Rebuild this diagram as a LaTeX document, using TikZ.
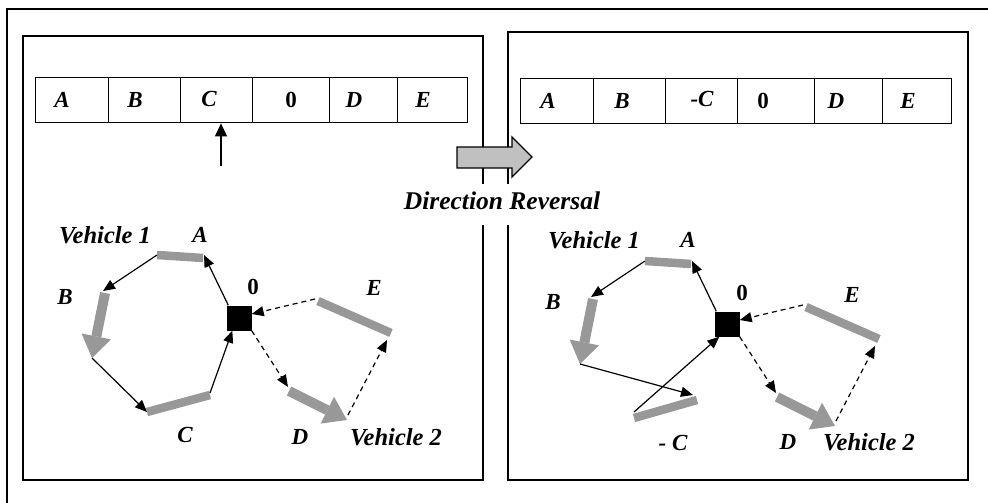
\documentclass[tikz,border=0pt]{standalone}
\usepackage{fontspec}
\setmainfont{Liberation Serif}
\usetikzlibrary{arrows.meta,calc}
\definecolor{barg}{RGB}{152,152,152}
\definecolor{bigarrow}{RGB}{192,192,192}
\begin{document}
\begin{tikzpicture}[x=1pt,y=-1pt,
  font=\fontsize{23}{26}\selectfont\bfseries\itshape,
  frame/.style={line width=2pt},
  cell/.style={draw, line width=1.4pt, minimum height=45pt, inner sep=0pt, anchor=north west},
  lbl/.style={inner sep=0pt},
  vlbl/.style={inner sep=0pt, font=\fontsize{24.5}{27}\selectfont\bfseries\itshape},
  zero/.style={inner sep=0pt, font=\fontsize{23}{26}\selectfont\bfseries\upshape},
  bar/.style={barg, line width=8.5pt},
  fat/.style={barg, line width=10pt, -{Triangle[length=22pt,width=30pt,line width=0pt]}},
  link/.style={line width=1.2pt, -{Triangle[length=12pt,width=10pt]}},
  dlink/.style={link, dash pattern=on 5pt off 4pt},
  depot/.style={fill=black, minimum size=25pt, inner sep=0pt},
]
\useasboundingbox (0,0) rectangle (988,503);
% outer frame and panels
\draw[frame] (7,503) -- (7,9) -- (988,9);
\draw[frame] (23,36) rectangle (483,480);
\draw[frame] (508,32) rectangle (968,480);

% left array
\node[cell, minimum width=73pt] (l1) at (35,77) {};
\node[cell, minimum width=72pt] (l2) at (108,77) {};
\node[cell, minimum width=72pt] (l3) at (180,77) {};
\node[cell, minimum width=77pt] (l4) at (252,77) {};
\node[cell, minimum width=68pt] (l5) at (329,77) {};
\node[cell, minimum width=70pt] (l6) at (397,77) {};
\node[lbl] (lt1) at (62,100) {A};
\node[lbl] (lt2) at (135,100) {B};
\node[lbl] (lt3) at (209,99) {C};
\node[zero] (lt4) at (291,100) {0};
\node[lbl] (lt5) at (354,100) {D};
\node[lbl] (lt6) at (423,100) {E};
\coordinate (ptr) at (221,166);
\draw[line width=1.2pt, -{Triangle[length=13pt,width=12pt]}] (ptr) -- (ptr |- l3.south);

% right array
\node[cell, minimum width=73pt] (r1) at (520,78) {};
\node[cell, minimum width=72pt] (r2) at (593,78) {};
\node[cell, minimum width=72pt] (r3) at (665,78) {};
\node[cell, minimum width=77pt] (r4) at (737,78) {};
\node[cell, minimum width=68pt] (r5) at (814,78) {};
\node[cell, minimum width=69pt] (r6) at (882,78) {};
\node[lbl] (rt1) at (548,101) {A};
\node[lbl] (rt2) at (622,101) {B};
\node[lbl] (rt3) at (702,99) {-C};
\node[zero] (rt4) at (763,101) {0};
\node[lbl] (rt5) at (836,101) {D};
\node[lbl] (rt6) at (908,101) {E};

% big arrow and label
\draw[fill=bigarrow, line width=1.3pt, line join=miter]
  (457,147) -- (512,147) -- (512,137) -- (532,157) -- (512,177) -- (512,168) -- (457,168) -- cycle;
\node[fill=white, inner xsep=3pt, inner ysep=9pt, text height=16pt, text depth=7pt, anchor=base,
  font=\fontsize{25.5}{28}\selectfont\bfseries\itshape] (dr) at (502,209) {Direction Reversal};

% ---------- left graph ----------
\coordinate (a1) at (157,255); \coordinate (a2) at (203,258);
\coordinate (b1) at (105,293); \coordinate (b2) at (92,358);
\coordinate (c1) at (147,412); \coordinate (c2) at (210,395);
\coordinate (d1) at (289,391); \coordinate (d2) at (347,420);
\coordinate (e1) at (318,301); \coordinate (e2) at (391,333);
\draw[bar] (a1) -- (a2);
\draw[fat] (b1) -- (b2);
\draw[bar] (c1) -- (c2);
\draw[fat] (d1) -- (d2);
\draw[bar] (e1) -- (e2);
\node[depot] (o1) at (239,318) {};
\draw[link] ([xshift=2pt]o1.north west) -- ($(a2)+(1,-3)$);
\draw[link] (a1) -- ($(b1)+(-2,-2)$);
\draw[link] (b2) -- (c1);
\draw[link] ($(c2)+(0,-2)$) -- ([xshift=6pt]o1.south west);
\draw[dlink] (o1.south east) -- ($(d1)+(-1,-4)$);
\draw[dlink] ($(d2)+(1,-5)$) -- ($(e2)+(-4,7)$);
\draw[dlink] ($(e1)+(-3,-2)$) -- ($(o1.east)+(0,-4)$);
\node[vlbl] (v1) at (105,235) {Vehicle 1};
\node[lbl] (la) at (200,235) {A};
\node[lbl] (lb) at (65,297) {B};
\node[zero] (l0) at (253,287) {0};
\node[lbl] (le) at (374,288) {E};
\node[lbl] (lc) at (185,435) {C};
\node[lbl] (ld) at (300,437) {D};
\node[vlbl] (v2) at (396,437) {Vehicle 2};

% ---------- right graph ----------
\coordinate (ra1) at (645,261); \coordinate (ra2) at (691,264);
\coordinate (rb1) at (593,299); \coordinate (rb2) at (580,364);
\coordinate (rc1) at (634,418); \coordinate (rc2) at (697,400);
\coordinate (rd1) at (777,397); \coordinate (rd2) at (835,426);
\coordinate (re1) at (806,307); \coordinate (re2) at (879,339);
\draw[bar] (ra1) -- (ra2);
\draw[fat] (rb1) -- (rb2);
\draw[bar] (rc1) -- (rc2);
\draw[fat] (rd1) -- (rd2);
\draw[bar] (re1) -- (re2);
\node[depot] (o2) at (727,324) {};
\draw[link] ([xshift=2pt]o2.north west) -- ($(ra2)+(1,-3)$);
\draw[link] (ra1) -- ($(rb1)+(-2,-2)$);
\draw[link] (rb2) -- ($(rc2)+(-4,-5)$);
\draw[link] ($(rc1)+(0,-6)$) -- ([xshift=5pt]o2.south west);
\draw[dlink] (o2.south east) -- ($(rd1)+(-1,-4)$);
\draw[dlink] ($(rd2)+(1,-5)$) -- ($(re2)+(-4,7)$);
\draw[dlink] ($(re1)+(-3,-2)$) -- ($(o2.east)+(0,-4)$);
\node[vlbl] (rv1) at (594,240) {Vehicle 1};
\node[lbl] (rla) at (688,240) {A};
\node[lbl] (rlb) at (553,302) {B};
\node[zero] (rl0) at (742,293) {0};
\node[lbl] (rle) at (852,295) {E};
\node[lbl] (rlc) at (673,443) {- C};
\node[lbl] (rld) at (788,442) {D};
\node[vlbl] (rv2) at (869,442) {Vehicle 2};
\end{tikzpicture}
\end{document}
